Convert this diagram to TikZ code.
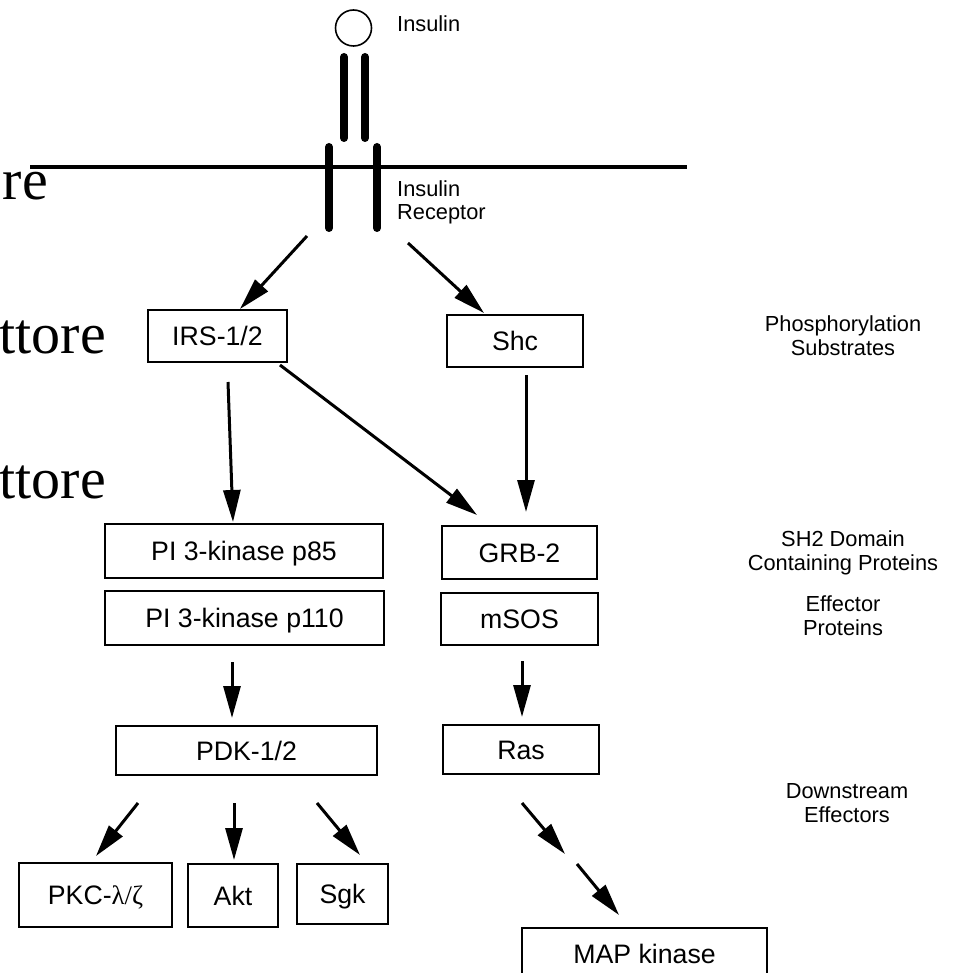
\documentclass[tikz,border=0pt]{standalone}
\usepackage{fontspec}
\setmainfont{Liberation Sans}
\newfontfamily\slideserif{Liberation Serif}
\usetikzlibrary{arrows.meta}
\begin{document}
\begin{tikzpicture}[x=1pt,y=-1pt,
  box/.style={draw, line width=2pt, inner sep=0pt, text height=19pt, text depth=0pt,
              font=\fontsize{26.7}{30}\selectfont},
  arr/.style={line width=3pt, -{Triangle[length=32pt,width=17pt]}},
  note/.style={align=center, inner sep=0pt, font=\fontsize{21.8}{23.5}\selectfont},
  bar/.style={line width=8pt, line cap=round},
  frag/.style={inner sep=0pt, font=\slideserif\fontsize{58}{60}\selectfont}]
\useasboundingbox[fill=white] (0,0) rectangle (953,973);

% fragments of slide text at the left edge
\node[frag, anchor=base east] (fragA) at (48,200) {re};
\node[frag, anchor=base east] (fragB) at (106,353) {ttore};
\node[frag, anchor=base east] (fragC) at (106,498) {ttore};

% insulin and its receptor in the membrane
\draw[line width=1.6pt] (353.5,28) circle[radius=18];
\node[note, anchor=base west] (insulin) at (397,32) {Insulin};
\draw[line width=3.5pt] (30,167) -- (687,167);
\draw[bar] (344,57) -- (344,138);
\draw[bar] (365,57) -- (365,138);
\draw[bar] (329,147) -- (329,228);
\draw[bar] (377,147) -- (377,228);
% multi-line labels are anchored at the baseline of their last line
\node[note, anchor=base west, align=left] (receptor) at (397,220) {Insulin\\Receptor};

% signalling proteins
\node[box, minimum width=139pt, minimum height=52pt] (irs)  at (217.5,336) {IRS-1/2};
\node[box, minimum width=136pt, minimum height=52pt] (shc)  at (515,341)   {Shc};
\node[box, minimum width=278pt, minimum height=54pt] (p85)  at (244,551)   {PI 3-kinase p85};
\node[box, minimum width=279pt, minimum height=54pt] (p110) at (244.5,618) {PI 3-kinase p110};
\node[box, minimum width=155pt, minimum height=53pt] (grb)  at (519.5,552.5) {GRB-2};
\node[box, minimum width=157pt, minimum height=52pt] (msos) at (519.5,619) {mSOS};
\node[box, minimum width=261pt, minimum height=49pt] (pdk)  at (246.5,750.5) {PDK-1/2};
\node[box, minimum width=156pt, minimum height=49pt] (ras)  at (521,749.5) {Ras};
\node[box, minimum width=153pt, minimum height=64pt] (pkc)  at (95.5,895)  {PKC-{\slideserif λ/ζ}};
\node[box, minimum width=90pt,  minimum height=63pt] (akt)  at (233,895.5) {Akt};
\node[box, minimum width=91pt,  minimum height=60pt] (sgk)  at (342.5,894) {Sgk};
\node[box, minimum width=245pt, minimum height=52pt] (map)  at (644.5,954) {MAP kinase};

% stage labels
\node[note, anchor=base] (lblA) at (843,355) {Phosphorylation\\Substrates};
\node[note, anchor=base] (lblB) at (843,570) {SH2 Domain\\Containing Proteins};
\node[note, anchor=base] (lblC) at (843,635) {Effector\\Proteins};
\node[note, anchor=base] (lblD) at (847,822) {Downstream\\Effectors};

% arrow end points
\coordinate (rL) at (307,236);  \coordinate (irsT) at (240,309);
\coordinate (rR) at (408,243);  \coordinate (shcT) at (484,313);
\coordinate (irsB) at (228,382); \coordinate (p85T) at (233,522);
\coordinate (irsC) at (280,365); \coordinate (grbL) at (477,515);
\coordinate (shcB) at (526,375); \coordinate (grbT) at (526,512);
\coordinate (p110B) at (232,662); \coordinate (pdkT) at (232,718);
\coordinate (msosB) at (522,661); \coordinate (rasT) at (522,717);
\coordinate (pdkL) at (138,803); \coordinate (pkcT) at (96,856);
\coordinate (pdkM) at (234,803); \coordinate (aktT) at (234,860);
\coordinate (pdkR) at (317,803); \coordinate (sgkT) at (360,855);
\coordinate (rasB) at (522,803); \coordinate (midA) at (565,854);
\coordinate (midB) at (577,864); \coordinate (mapT) at (619,915);

\draw[arr] (rL) -- (irsT);
\draw[arr] (rR) -- (shcT);
\draw[arr] (irsB) -- (p85T);
\draw[arr] (irsC) -- (grbL);
\draw[arr] (shcB) -- (grbT);
\draw[arr] (p110B) -- (pdkT);
\draw[arr] (msosB) -- (rasT);
\draw[arr] (pdkL) -- (pkcT);
\draw[arr] (pdkM) -- (aktT);
\draw[arr] (pdkR) -- (sgkT);
\draw[arr] (rasB) -- (midA);
\draw[arr] (midB) -- (mapT);
\end{tikzpicture}
\end{document}
